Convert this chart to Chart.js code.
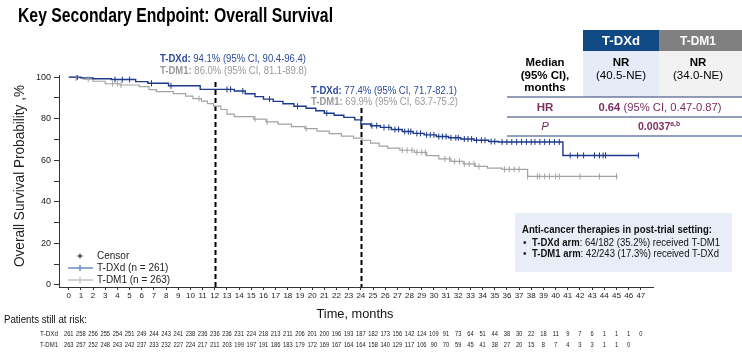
<!DOCTYPE html>
<html>
<head>
<meta charset="utf-8">
<script src="https://cdn.jsdelivr.net/npm/chart.js@4.4.1/dist/chart.umd.min.js"></script>
<style>
  html, body { margin: 0; padding: 0; background: #fff; }
  #grafico_wrap { position: relative; width: 742px; height: 354px; }
</style>
</head>
<body>
<div id="grafico_wrap"><canvas id="grafico_km" width="742" height="354"></canvas></div>
<script>
/*********-datos de las curvas-*********/
const MESES_DXD = [0, 1.0, 2.0, 3.5, 5.5, 6.5, 8.2, 10.8, 13.6, 14.5, 15.3, 16.0, 16.8, 17.6, 18.5, 19.5, 20.3, 21.0, 21.8, 22.6, 23.5, 24.0, 24.8, 25.6, 26.5, 27.4, 28.3, 29.2, 30.2, 31.2, 32.2, 33.3, 34.5, 35.3, 40.6, 46.8];
const SURV_DXD = [100, 99.6, 99.2, 98.8, 97.8, 97.0, 95.8, 94.1, 93.3, 92.0, 90.6, 89.4, 88.3, 87.2, 86.0, 85.0, 83.8, 82.6, 81.6, 80.6, 79.4, 77.4, 76.6, 75.8, 74.8, 73.8, 72.9, 72.2, 71.4, 70.8, 70.2, 69.6, 69.0, 68.8, 62.3, 62.3];

const MESES_DM1 = [0, 0.6, 1.2, 2.0, 3.0, 4.2, 5.8, 6.6, 7.2, 8.6, 9.6, 10.2, 10.9, 11.4, 11.9, 12.5, 13.0, 13.6, 15.2, 16.2, 17.2, 18.3, 19.4, 20.4, 21.4, 22.4, 23.4, 24.1, 24.8, 25.5, 26.2, 27.2, 28.4, 29.4, 30.4, 31.4, 32.4, 33.4, 34.4, 35.6, 37.7, 45.1];
const SURV_DM1 = [100, 99.6, 99.0, 98.0, 96.8, 96.2, 95.4, 94.0, 93.0, 92.0, 90.8, 89.6, 88.4, 87.2, 86.0, 84.4, 82.2, 81.0, 79.8, 78.4, 77.4, 76.2, 75.2, 74.0, 72.8, 71.6, 70.6, 69.6, 68.2, 66.8, 65.8, 64.8, 63.8, 62.2, 60.6, 59.4, 58.2, 57.0, 56.2, 55.6, 52.2, 52.2];

// meses con censura (marcas verticales)
const CENSOR_DXD = [0.7, 3.8, 4.4, 5.0, 6.8, 8.4, 13.0, 13.3, 14.3, 16.5, 18.8, 21.2, 24.9, 25.3, 25.9, 26.3, 26.8, 27.1, 27.6, 27.9, 28.1, 28.6, 28.9, 29.4, 29.7, 30.0, 30.4, 30.7, 31.0, 31.4, 31.8, 32.0, 32.5, 32.8, 33.1, 33.5, 33.9, 34.2, 34.7, 35.0, 35.6, 36.0, 36.4, 36.8, 37.2, 37.6, 38.0, 38.3, 38.7, 39.1, 39.5, 39.9, 40.3, 41.2, 41.8, 42.3, 43.2, 43.6, 43.9, 44.1, 46.8];
const CENSOR_DM1 = [0.6, 1.6, 3.6, 4.0, 4.3, 10.7, 15.3, 16.3, 19.5, 27.4, 27.8, 28.2, 28.6, 29.0, 29.3, 30.9, 31.3, 31.7, 32.1, 32.5, 32.9, 33.3, 33.7, 35.8, 36.2, 36.6, 37.0, 37.7, 38.5, 38.7, 39.1, 39.5, 40.0, 40.3, 42.0, 43.6, 45.0];

// ejes
const TICKS_MESES = [0, 1, 2, 3, 4, 5, 6, 7, 8, 9, 10, 11, 12, 13, 14, 15, 16, 17, 18, 19, 20, 21, 22, 23, 24, 25, 26, 27, 28, 29, 30, 31, 32, 33, 34, 35, 36, 37, 38, 39, 40, 41, 42, 43, 44, 45, 46, 47];
const TICKS_SURV = [0, 10, 20, 30, 40, 50, 60, 70, 80, 90, 100];
const HITOS = [12, 24];

// pacientes en riesgo
const RIESGO_DXD = [261, 258, 256, 255, 254, 251, 249, 244, 243, 241, 238, 236, 236, 236, 231, 224, 218, 213, 211, 206, 201, 200, 196, 193, 187, 182, 173, 156, 142, 124, 109, 91, 73, 64, 51, 44, 38, 30, 22, 18, 11, 9, 7, 6, 1, 1, 1, 0];
const RIESGO_DM1 = [263, 257, 252, 248, 243, 242, 237, 233, 232, 227, 224, 217, 211, 203, 199, 197, 191, 186, 183, 179, 172, 169, 167, 164, 164, 158, 140, 129, 117, 106, 90, 70, 59, 45, 41, 38, 27, 20, 15, 8, 7, 4, 3, 3, 1, 1, 0];
//------------------------------------//

/*********-colores y fuentes-*********/
const AZUL = "#1c3a8c";
const AZUL_TXT = "#2d4a9c";
const GRIS = "#a3a3a3";
const GRIS_TXT = "#999999";
const MORADO = "#7a2f62";
const FUENTE = "Liberation Sans";
//------------------------------------//

/*********-armar los puntos-*********/
function puntos(meses, valores) {
  return meses.map((m, i) => ({ x: m, y: valores[i] }));
}
// valor de la curva en un mes dado (para colocar las censuras encima)
function valorEn(meses, valores, t) {
  let v = valores[0];
  for (let i = 0; i < meses.length; i++) {
    if (meses[i] <= t) v = valores[i];
  }
  return v;
}
function censuras(lista, meses, valores) {
  return lista.map(m => ({ x: m, y: valorEn(meses, valores, m) }));
}
//------------------------------------//

/*********-texto con tramos (negrita / normal) ajustado a un ancho-*********/
function tramos(ctx, partes, x, y, align, ancho) {
  ctx.save();
  ctx.textBaseline = "alphabetic";
  ctx.textAlign = "left";
  let total = 0;
  const anchos = partes.map(p => {
    ctx.font = p[1];
    const w = ctx.measureText(p[0]).width;
    total += w;
    return w;
  });
  const sx = ancho ? ancho / total : 1;
  let x0 = x;
  if (align === "center") x0 = x - total * sx / 2;
  if (align === "right") x0 = x - total * sx;
  ctx.translate(x0, y);
  ctx.scale(sx, 1);
  let cx = 0;
  partes.forEach((p, i) => {
    ctx.font = p[1];
    ctx.fillStyle = p[2];
    ctx.fillText(p[0], cx, p[3] || 0);
    cx += anchos[i];
  });
  ctx.restore();
}
//------------------------------------//

/*********-plugin para todo lo que no es la curva-*********/
const DECORADO = {
  id: "decorado",
  beforeDatasetsDraw(chart) {
    const ctx = chart.ctx;
    const X = chart.scales.x;
    const area = chart.chartArea;
    // lineas discontinuas en 12 y 24 meses
    const tops = [82, 108];
    ctx.save();
    ctx.strokeStyle = "#000";
    ctx.lineWidth = 2;
    ctx.setLineDash([5, 3]);
    HITOS.forEach((m, i) => {
      const px = Math.round(X.getPixelForValue(m)) + 0.5;
      ctx.beginPath();
      ctx.moveTo(px, tops[i]);
      ctx.lineTo(px, area.bottom);
      ctx.stroke();
    });
    ctx.restore();
  },
  afterDraw(chart) {
    const ctx = chart.ctx;
    const X = chart.scales.x;
    const B = "bold ";

    // titulo
    tramos(ctx, [["Key Secondary Endpoint: Overall Survival", B + "21px " + FUENTE, "#000"]], 18, 22, "left", 315);

    // anotaciones 12 y 24 meses
    tramos(ctx, [["T-DXd:", B + "10px " + FUENTE, AZUL_TXT], [" 94.1% (95% CI, 90.4-96.4)", "10px " + FUENTE, AZUL_TXT]], 160, 62, "left", 146);
    tramos(ctx, [["T-DM1:", B + "10px " + FUENTE, GRIS_TXT], [" 86.0% (95% CI, 81.1-89.8)", "10px " + FUENTE, GRIS_TXT]], 160, 74, "left", 147);
    tramos(ctx, [["T-DXd:", B + "10px " + FUENTE, AZUL_TXT], [" 77.4% (95% CI, 71.7-82.1)", "10px " + FUENTE, AZUL_TXT]], 311, 94, "left", 146);
    tramos(ctx, [["T-DM1:", B + "10px " + FUENTE, GRIS_TXT], [" 69.9% (95% CI, 63.7-75.2)", "10px " + FUENTE, GRIS_TXT]], 311, 105, "left", 147);

    // titulos de ejes
    ctx.save();
    ctx.translate(24, 176);
    ctx.rotate(-Math.PI / 2);
    tramos(ctx, [["Overall Survival Probability ,%", "14px " + FUENTE, "#222"]], 0, 0, "center", 182);
    ctx.restore();
    tramos(ctx, [["Time, months", "13px " + FUENTE, "#111"]], 355, 318, "center", 77);

    // tabla de medianas
    ctx.save();
    ctx.fillStyle = "#0f4a85";
    ctx.fillRect(583, 30, 76, 21);
    ctx.fillStyle = "#808080";
    ctx.fillRect(659, 30, 83, 21);
    ctx.fillStyle = "#e5ebf7";
    ctx.fillRect(583, 51, 76, 46);
    ctx.fillStyle = "#f2f2f2";
    ctx.fillRect(659, 51, 83, 46);
    ctx.strokeStyle = "#2a3f78";
    ctx.lineWidth = 1.2;
    [97, 117, 136].forEach(yy => {
      ctx.beginPath();
      ctx.moveTo(507, yy);
      ctx.lineTo(742, yy);
      ctx.stroke();
    });
    ctx.restore();
    tramos(ctx, [["T-DXd", B + "13px " + FUENTE, "#fff"]], 621, 45, "center", 38);
    tramos(ctx, [["T-DM1", B + "13px " + FUENTE, "#fff"]], 698, 45, "center", 36);
    tramos(ctx, [["Median", B + "11.5px " + FUENTE, "#000"]], 545, 66, "center", 39);
    tramos(ctx, [["(95% CI),", B + "11.5px " + FUENTE, "#000"]], 545, 79, "center");
    tramos(ctx, [["months", B + "11.5px " + FUENTE, "#000"]], 545, 91, "center");
    tramos(ctx, [["NR", B + "11.5px " + FUENTE, "#000"]], 621, 66, "center");
    tramos(ctx, [["(40.5-NE)", "11.5px " + FUENTE, "#000"]], 621, 79, "center", 50);
    tramos(ctx, [["NR", B + "11.5px " + FUENTE, "#000"]], 698, 66, "center");
    tramos(ctx, [["(34.0-NE)", "11.5px " + FUENTE, "#000"]], 698, 79, "center", 50);
    tramos(ctx, [["HR", B + "11.5px " + FUENTE, MORADO]], 545, 111, "center");
    tramos(ctx, [["0.64", B + "11.5px " + FUENTE, MORADO], [" (95% CI, 0.47-0.87)", "11.5px " + FUENTE, MORADO]], 660, 111, "center", 123);
    tramos(ctx, [["P", "italic 11.5px " + FUENTE, MORADO]], 545, 130, "center");
    tramos(ctx, [["0.0037", B + "11px " + FUENTE, MORADO], ["a,b", B + "7px " + FUENTE, MORADO, -4]], 659, 130, "center", 42);

    // leyenda abajo a la izquierda
    ctx.save();
    ctx.lineWidth = 1;
    ctx.strokeStyle = "#000";
    ctx.beginPath();
    ctx.moveTo(80, 253.5); ctx.lineTo(80, 258.5);
    ctx.moveTo(77.5, 256); ctx.lineTo(82.5, 256);
    ctx.stroke();
    ctx.strokeStyle = "#6f8cc9";
    ctx.lineWidth = 1.5;
    ctx.beginPath();
    ctx.moveTo(68, 268); ctx.lineTo(93, 268);
    ctx.moveTo(80, 265); ctx.lineTo(80, 271);
    ctx.stroke();
    ctx.strokeStyle = "#c4c4c4";
    ctx.beginPath();
    ctx.moveTo(68, 280); ctx.lineTo(93, 280);
    ctx.moveTo(80, 277); ctx.lineTo(80, 283);
    ctx.stroke();
    ctx.restore();
    tramos(ctx, [["Censor", "10px " + FUENTE, "#222"]], 97, 259, "left");
    tramos(ctx, [["T-DXd (n = 261)", "10px " + FUENTE, "#222"]], 97, 271, "left");
    tramos(ctx, [["T-DM1 (n = 263)", "10px " + FUENTE, "#222"]], 97, 283, "left");

    // cuadro de terapias posteriores
    ctx.save();
    ctx.fillStyle = "#e8edf8";
    ctx.fillRect(515, 213, 217, 59);
    ctx.restore();
    tramos(ctx, [["Anti-cancer therapies in post-trial setting:", B + "10px " + FUENTE, "#111"]], 522, 233, "left", 190);
    tramos(ctx, [["•", "10px " + FUENTE, "#111"]], 523, 246, "left");
    tramos(ctx, [["T-DXd arm", B + "10px " + FUENTE, "#111"], [": 64/182 (35.2%) received T-DM1", "10px " + FUENTE, "#111"]], 532, 246, "left", 188);
    tramos(ctx, [["•", "10px " + FUENTE, "#111"]], 523, 257, "left");
    tramos(ctx, [["T-DM1 arm", B + "10px " + FUENTE, "#111"], [": 42/243 (17.3%) received T-DXd", "10px " + FUENTE, "#111"]], 532, 257, "left", 187);

    // pacientes en riesgo (numeros algo estrechos, como en el original)
    tramos(ctx, [["Patients still at risk:", "10px " + FUENTE, "#111"]], 4, 323, "left", 83);
    tramos(ctx, [["T-DXd", "7px " + FUENTE, "#222"]], 40, 336, "left", 18);
    tramos(ctx, [["T-DM1", "7px " + FUENTE, "#222"]], 40, 347, "left", 18);
    RIESGO_DXD.forEach((n, i) => {
      const s = "" + n;
      tramos(ctx, [[s, "7px " + FUENTE, "#222"]], X.getPixelForValue(TICKS_MESES[i]), 336, "center", s.length * 3.2);
    });
    RIESGO_DM1.forEach((n, i) => {
      const s = "" + n;
      tramos(ctx, [[s, "7px " + FUENTE, "#222"]], X.getPixelForValue(TICKS_MESES[i]), 347, "center", s.length * 3.2);
    });
  }
};
//------------------------------------//

/*********-configuracion del grafico-*********/
const config = {
  type: "line",
  data: {
    datasets: [
      {
        label: "T-DXd",
        data: puntos(MESES_DXD, SURV_DXD),
        stepped: true,
        borderColor: AZUL,
        borderWidth: 1.4,
        pointRadius: 0,
        fill: false,
        order: 2
      },
      {
        label: "T-DM1",
        data: puntos(MESES_DM1, SURV_DM1),
        stepped: true,
        borderColor: GRIS,
        borderWidth: 1.2,
        pointRadius: 0,
        fill: false,
        order: 3
      },
      {
        label: "Censor T-DXd",
        data: censuras(CENSOR_DXD, MESES_DXD, SURV_DXD),
        showLine: false,
        pointStyle: "line",
        pointRotation: 90,
        pointRadius: 3,
        pointBorderColor: AZUL,
        pointBorderWidth: 1,
        order: 0
      },
      {
        label: "Censor T-DM1",
        data: censuras(CENSOR_DM1, MESES_DM1, SURV_DM1),
        showLine: false,
        pointStyle: "line",
        pointRotation: 90,
        pointRadius: 3,
        pointBorderColor: GRIS,
        pointBorderWidth: 1,
        order: 1
      }
    ]
  },
  options: {
    responsive: false,
    animation: false,
    devicePixelRatio: 1,
    layout: { padding: { left: 0, right: 89, top: 75, bottom: 0 } },
    plugins: {
      legend: { display: false },
      tooltip: { enabled: false }
    },
    scales: {
      x: {
        type: "linear",
        min: -0.8,
        max: 48,
        border: { color: "#333", width: 1 },
        grid: { drawOnChartArea: false, drawTicks: true, tickLength: 3, color: "#333" },
        ticks: {
          autoSkip: false,
          maxRotation: 0,
          padding: 1,
          color: "#222",
          font: { family: FUENTE, size: 8 }
        },
        afterBuildTicks: s => { s.ticks = TICKS_MESES.map(v => ({ value: v })); },
        afterFit: s => { s.height = 67; }
      },
      y: {
        type: "linear",
        min: -1,
        max: 101,
        border: { color: "#333", width: 1 },
        grid: { drawOnChartArea: false, drawTicks: true, tickLength: 5, color: "#333" },
        ticks: {
          padding: 3,
          color: "#222",
          font: { family: FUENTE, size: 9 },
          callback: v => (v % 20 === 0 ? v : "")
        },
        afterBuildTicks: s => { s.ticks = TICKS_SURV.map(v => ({ value: v })); },
        afterFit: s => { s.width = 59; }
      }
    }
  },
  plugins: [DECORADO]
};

const GRAFICO_KM = document.getElementById("grafico_km").getContext("2d");
new Chart(GRAFICO_KM, config);
//------------------------------------//
</script>
</body>
</html>
